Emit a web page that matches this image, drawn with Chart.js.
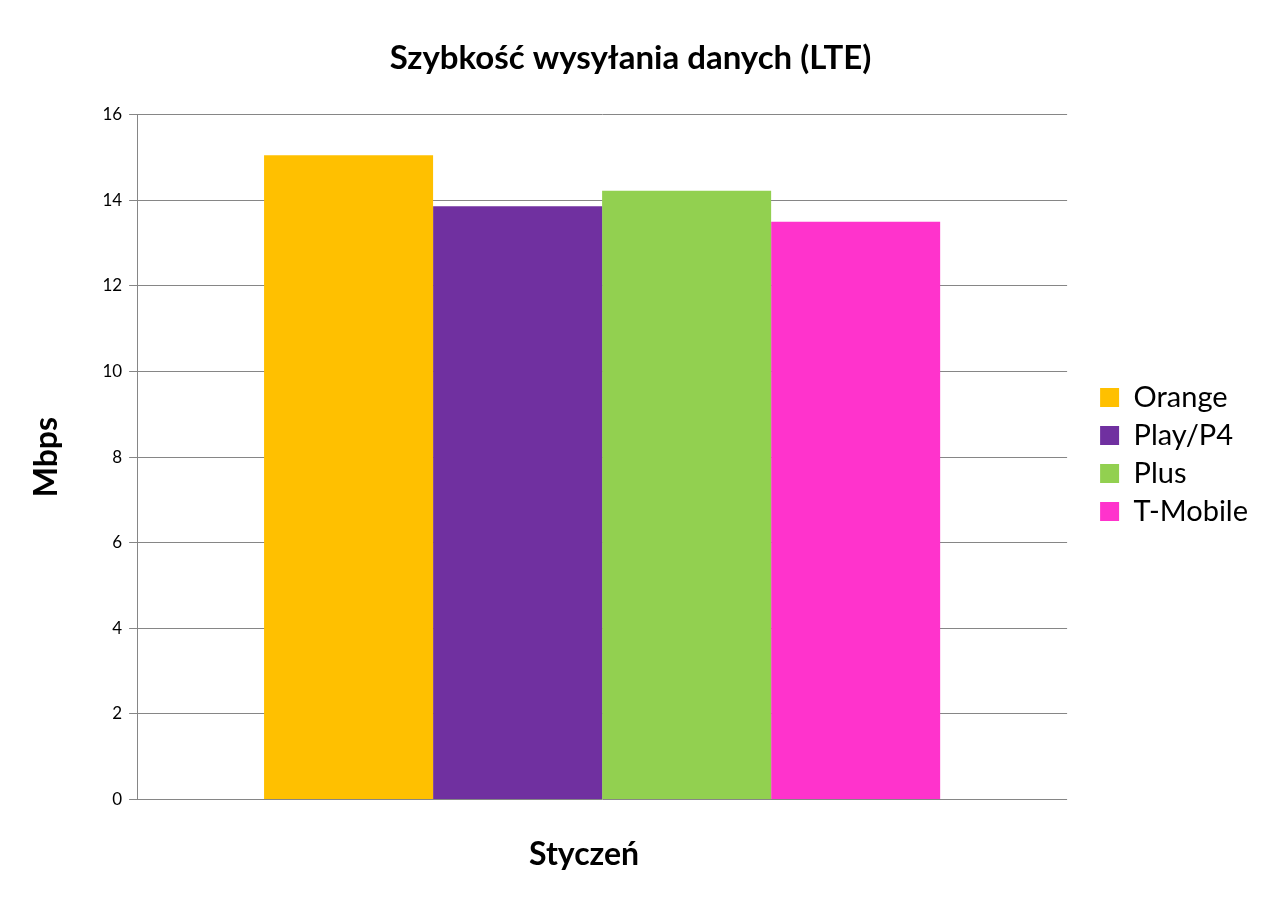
<!DOCTYPE html>
<html>
<head>
<meta charset="utf-8">
<script src="https://cdn.jsdelivr.net/npm/chart.js"></script>
<style>
  html, body { margin: 0; padding: 0; background: #ffffff; }
  #wrap { width: 1268px; height: 907px; }
</style>
</head>
<body>
<div id="wrap"><canvas id="chart" width="1268" height="907"></canvas></div>
<script>
// dane: szybkość wysyłania (LTE), styczeń
var categories = ["Styczeń"];
var operators = ["Orange", "Play/P4", "Plus", "T-Mobile"];
var uploadMbps = [15.05, 13.86, 14.22, 13.50];
var operatorColors = ["#FFC000", "#7030A0", "#92D050", "#FF33CC"];
var yMin = 0, yMax = 16, yStep = 2;

var FONT = "Lato, 'Open Sans', sans-serif";
var GRID = "#868686";

var datasets = [];
for (var i = 0; i < operators.length; i++) {
    datasets.push({
        label: operators[i],
        data: [uploadMbps[i]],
        backgroundColor: operatorColors[i],
        borderWidth: 0
    });
}

// legend sits a bit further from the plot than chart.js puts it
var legendShift = {
    id: "legendShift",
    afterLayout: function(chart) {
        chart.legend.left += 24;
        chart.legend.right += 24;
        chart.legend.top -= 9;
        chart.legend.bottom -= 9;
    }
};

var ctx = document.getElementById("chart").getContext("2d");
var chart = new Chart(ctx, {
    type: "bar",
    data: { labels: categories, datasets: datasets },
    plugins: [legendShift],
    options: {
        responsive: false,
        animation: false,
        devicePixelRatio: 1,
        layout: { padding: { left: 27, right: 34, top: 25, bottom: 5 } },
        datasets: { bar: { categoryPercentage: 0.727, barPercentage: 1.0 } },
        plugins: {
            title: {
                display: true,
                text: "Szybkość wysyłania danych (LTE)",
                color: "#000000",
                font: { family: FONT, size: 33, weight: "bold" },
                padding: { top: 14, bottom: 36 }
            },
            legend: {
                position: "right",
                labels: {
                    boxWidth: 19,
                    boxHeight: 19,
                    padding: 9,
                    color: "#000000",
                    font: { family: FONT, size: 29 }
                }
            },
            tooltip: { enabled: false }
        },
        scales: {
            x: {
                grid: { display: false },
                border: { display: false },
                ticks: {
                    color: "#000000",
                    font: { family: FONT, size: 32, weight: "bold" },
                    labelOffset: -18,
                    padding: 28
                }
            },
            y: {
                min: yMin,
                max: yMax,
                ticks: {
                    stepSize: yStep,
                    color: "#000000",
                    font: { family: FONT, size: 17 },
                    padding: 7
                },
                grid: { color: GRID, lineWidth: 1, tickLength: 8, drawTicks: true },
                border: { display: true, color: GRID, width: 1 },
                title: {
                    display: true,
                    text: "Mbps",
                    color: "#000000",
                    font: { family: FONT, size: 32, weight: "bold" },
                    padding: { top: 0, bottom: 30 }
                }
            }
        }
    }
});
</script>
</body>
</html>
